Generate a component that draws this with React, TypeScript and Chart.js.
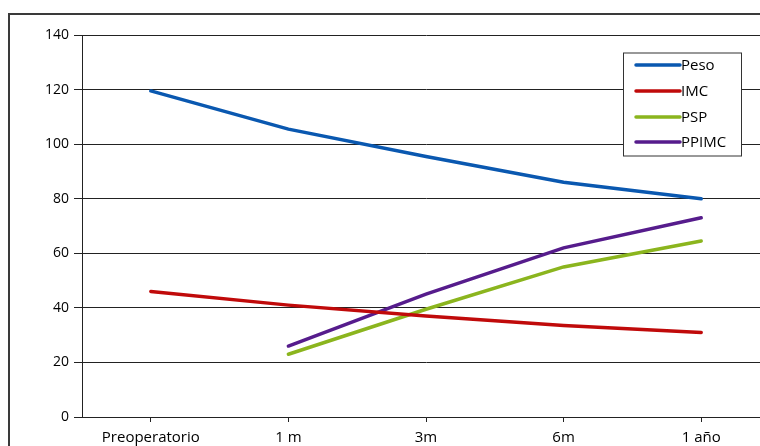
import React, { useEffect, useRef } from "react";
import { Chart, registerables } from "chart.js";

Chart.register(...registerables);

const categories = ["Preoperatorio", "1 m", "3m", "6m", "1 año"];
const peso = [119.5, 105.5, 95.5, 86, 80];
const imc = [46, 41, 37, 33.5, 31];
const psp = [null, 23, 39.5, 55, 64.5];
const ppimc = [null, 26, 45, 62, 73];
const yTicks = [0, 20, 40, 60, 80, 100, 120, 140];

const seriesNames = ["Peso", "IMC", "PSP", "PPIMC"];
const seriesColors = ["#0A58B0", "#C00A0A", "#8BB51E", "#561C8C"];

const FONT = "'Open Sans', sans-serif";

// Legend box drawn inside the plot area, top right
const legendBox = {
  id: "legendBox",
  afterDraw(chart: any) {
    const ctx = chart.ctx;
    const x = 613;
    const y = 37.5;
    const w = 118;
    const h = 103;
    ctx.save();
    ctx.fillStyle = "#ffffff";
    ctx.fillRect(x, y, w, h);
    ctx.strokeStyle = "#333333";
    ctx.lineWidth = 1;
    ctx.strokeRect(x + 0.5, y + 0.5, w, h);
    const rows = [50, 76, 102, 127];
    ctx.font = `15px ${FONT}`;
    ctx.textBaseline = "middle";
    ctx.lineCap = "round";
    seriesNames.forEach((name, i) => {
      ctx.strokeStyle = seriesColors[i];
      ctx.lineWidth = 3.5;
      ctx.beginPath();
      ctx.moveTo(626, rows[i]);
      ctx.lineTo(670, rows[i]);
      ctx.stroke();
      ctx.fillStyle = "#000000";
      ctx.fillText(name, 671, rows[i] + 1);
    });
    ctx.restore();
  },
};

export default function App() {
  const ref = useRef<HTMLCanvasElement | null>(null);

  useEffect(() => {
    if (!ref.current) return;
    const datasets = [peso, imc, psp, ppimc].map((d, i) => ({
      label: seriesNames[i],
      data: d,
      borderColor: seriesColors[i],
      backgroundColor: seriesColors[i],
      borderWidth: 3.5,
      pointRadius: 0,
      tension: 0,
      spanGaps: false,
      borderCapStyle: "round" as const,
    }));
    const chart = new Chart(ref.current, {
      type: "line",
      data: { labels: categories, datasets },
      plugins: [legendBox],
      options: {
        responsive: false,
        animation: false,
        layout: { padding: { top: 20, right: 40, bottom: 0, left: 0 } },
        plugins: {
          legend: { display: false },
          tooltip: { enabled: false },
        },
        scales: {
          x: {
            offset: true,
            afterFit: (s: any) => {
              s.height = 58;
            },
            grid: {
              drawOnChartArea: false,
              drawTicks: true,
              tickLength: 5,
              color: "#222222",
            },
            border: { color: "#222222", width: 1 },
            ticks: {
              color: "#000000",
              padding: 7,
              maxRotation: 0,
              font: { family: FONT, size: 15 },
            },
          },
          y: {
            min: 0,
            max: 140,
            afterFit: (s: any) => {
              s.width = 72;
            },
            afterBuildTicks: (s: any) => {
              s.ticks = yTicks.map((v) => ({ value: v }));
            },
            grid: {
              color: "#222222",
              lineWidth: 1,
              drawTicks: true,
              tickLength: 8,
            },
            border: { color: "#222222", width: 1 },
            ticks: {
              color: "#000000",
              padding: 5,
              font: { family: FONT, size: 14 },
            },
          },
        },
      },
    });
    return () => chart.destroy();
  }, []);

  return (
    <div
      style={{
        position: "fixed",
        left: 0,
        top: 0,
        width: 760,
        height: 446,
        overflow: "hidden",
        background: "#ffffff",
      }}
    >
      <div
        style={{
          position: "absolute",
          left: 8,
          top: 13,
          width: 820,
          height: 480,
          border: "2px solid #3a3a3a",
          boxSizing: "border-box",
        }}
      >
        <canvas
          ref={ref}
          width={800}
          height={460}
          style={{ display: "block", width: 800, height: 460 }}
        />
      </div>
    </div>
  );
}
